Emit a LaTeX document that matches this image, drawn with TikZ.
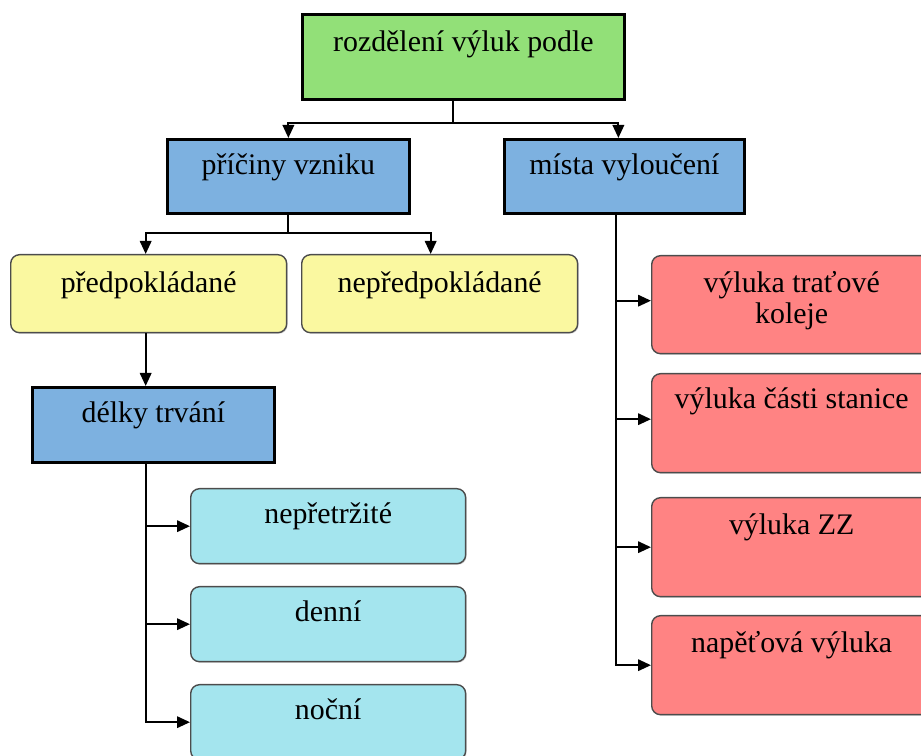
\documentclass[tikz,border=0pt]{standalone}
\usepackage{fontspec}
\setmainfont{Liberation Serif}
\usetikzlibrary{arrows.meta,positioning,calc,shadows}
\definecolor{leaf}{HTML}{92E078}
\definecolor{sky}{HTML}{7DB1E0}
\definecolor{butter}{HTML}{FAF8A0}
\definecolor{aqua}{HTML}{A4E5EE}
\definecolor{salmon}{HTML}{FF8383}
\tikzset{
  box/.style={rectangle, align=center, inner sep=0pt, text=black,
              font=\fontsize{17}{17.5}\selectfont},
  sqbox/.style={box, draw=black, line width=1.6pt},
  rndbox/.style={box, draw=black!70, line width=0.8pt, rounded corners=5pt,
                 drop shadow={shadow xshift=0.6pt, shadow yshift=-0.6pt, opacity=0.35}},
  rootbox/.style={sqbox, fill=leaf, minimum width=6.44cm, text height=0.74cm, text depth=0.96cm},
  groupbox/.style={sqbox, fill=sky, minimum width=4.84cm, text height=0.70cm, text depth=0.78cm},
  kindbox/.style={rndbox, fill=butter, minimum width=5.52cm, text height=0.76cm, text depth=0.80cm},
  timebox/.style={rndbox, fill=aqua, minimum width=5.50cm, text height=0.70cm, text depth=0.80cm},
  placebox/.style={rndbox, fill=salmon, minimum width=5.60cm, text height=0.74cm, text depth=1.24cm},
  link/.style={draw=black, line width=1.1pt},
  flow/.style={link, -{Triangle[length=0.26cm, width=0.23cm]}}
}
\begin{document}
\begin{tikzpicture}[x=0.02cm, y=-0.02cm]
  \useasboundingbox (0,0) rectangle (921,756);
  \clip (0,0) rectangle (921,756);

  % top level
  \node[rootbox, anchor=north west] (root) at (301,13) {rozdělení výluk podle};
  \node[groupbox, anchor=north west] (priciny) at (166,138) {příčiny vzniku};
  \node[groupbox, anchor=north west, minimum width=4.80cm] (mista) at (503,138) {místa vyloučení};

  % causes
  \node[kindbox, anchor=north west] (predp) at (10,254) {předpokládané};
  \node[kindbox, anchor=north west] (nepredp) at (301,254) {nepředpokládané};
  \node[groupbox, anchor=north west, text depth=0.80cm] (delky) at (31,386) {délky trvání};

  % duration
  \node[timebox, anchor=north west] (neprer) at (190,488) {nepřetržité};
  \node[timebox, anchor=north west] (denni) at (190,586) {denní};
  \node[timebox, anchor=north west] (nocni) at (190,684) {noční};

  % places
  \node[placebox, anchor=north west, text height=1.36cm, text depth=0.60cm] (trat) at (651,255) {výluka traťové\\koleje};
  \node[placebox, anchor=north west, text height=0.70cm, text depth=1.28cm] (stanice) at (651,373) {výluka části stanice};
  \node[placebox, anchor=north west] (zz) at (651,497) {výluka ZZ};
  \node[placebox, anchor=north west] (napeti) at (651,615) {napěťová výluka};

  % connectors
  \coordinate (rootfork) at ([xshift=-0.2cm]root.south |- 0,123);
  \draw[link] ([xshift=-0.2cm]root.south) -- (rootfork);
  \draw[flow] (rootfork) -| (priciny.north);
  \draw[flow] (rootfork) -| ([xshift=-0.12cm]mista.north);

  \coordinate (causefork) at (priciny.south |- 0,233);
  \draw[link] (priciny.south) -- (causefork);
  \draw[flow] (causefork) -| ([xshift=-0.06cm]predp.north);
  \draw[flow] (causefork) -| ([xshift=-0.18cm]nepredp.north);
  \draw[flow] ([xshift=-0.06cm]predp.south) -- ([xshift=-0.06cm]predp.south |- delky.north);

  \coordinate (timetrunk) at ([xshift=-0.14cm]delky.south);
  \draw[flow] (timetrunk) |- (neprer.west);
  \draw[flow] (timetrunk) |- (denni.west);
  \draw[flow] (timetrunk) |- (nocni.west);

  \coordinate (placetrunk) at ([xshift=-0.16cm]mista.south);
  \draw[flow] (placetrunk) |- ([yshift=0.08cm]trat.west);
  \draw[flow] (placetrunk) |- ([yshift=0.08cm]stanice.west);
  \draw[flow] (placetrunk) |- (zz.west);
  \draw[flow] (placetrunk) |- (napeti.west);
\end{tikzpicture}
\end{document}
